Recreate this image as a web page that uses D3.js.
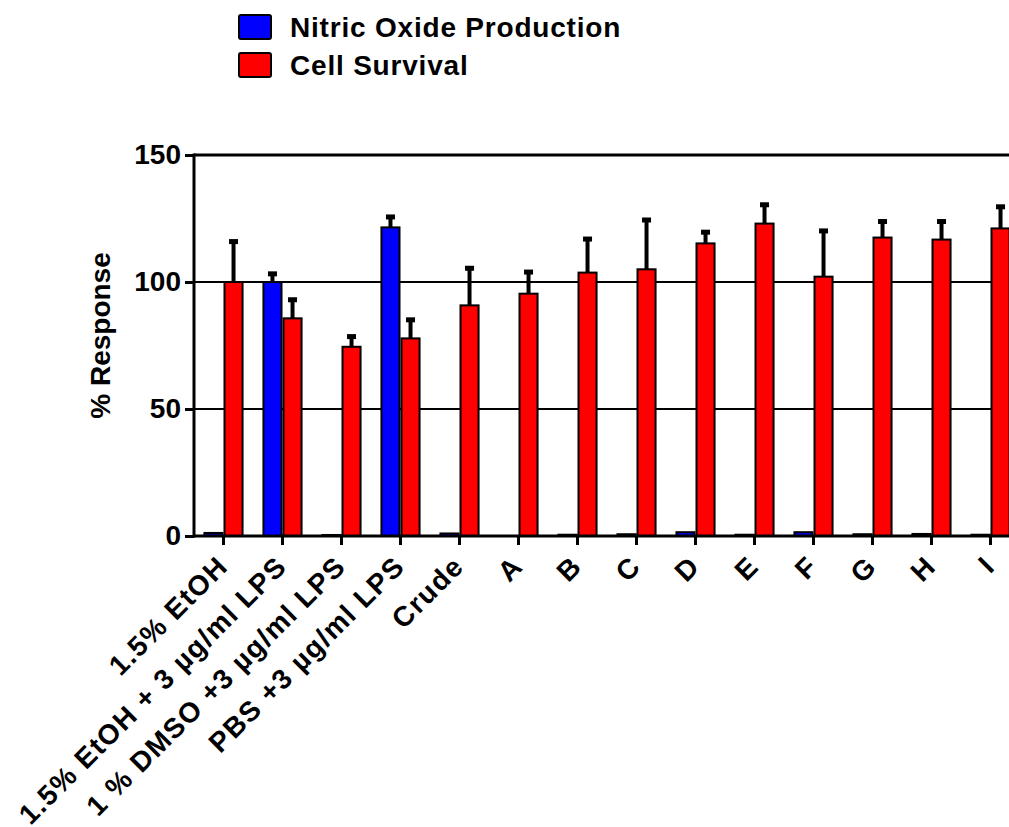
<!DOCTYPE html>
<html>
<head>
<meta charset="utf-8">
<script src="https://cdn.jsdelivr.net/npm/d3@7"></script>
<style>
  body { margin: 0; background: #fff; }
  svg { display: block; font-family: "Liberation Sans", Arial, sans-serif; font-weight: bold; }
</style>
</head>
<body>
<div id="chart"></div>
<script>
const categories = ["1.5% EtOH", "1.5% EtOH + 3 µg/ml LPS", "1 % DMSO +3 µg/ml LPS", "PBS +3 µg/ml LPS",
  "Crude", "A", "B", "C", "D", "E", "F", "G", "H", "I"];
const seriesNames = ["Nitric Oxide Production", "Cell Survival"];
const seriesColors = ["#0000ff", "#ff0000"];
const nitricOxide = [1.2, 100, 0.4, 121.5, 1.0, 0, 0.5, 0.7, 1.5, 0.5, 1.5, 0.7, 0.8, 0.5];
const nitricOxideErr = [0, 3.8, 0, 4.7, 0, 0, 0, 0, 0, 0, 0, 0, 0, 0];
const cellSurvival = [100, 85.7, 74.5, 77.8, 90.8, 95.4, 103.7, 105, 115.2, 123, 102.1, 117.5, 116.7, 121.1];
const cellSurvivalErr = [16.5, 7.9, 4.6, 7.9, 15.2, 9.1, 13.8, 20, 5, 8, 18.6, 6.9, 7.7, 9.1];
const yTicks = [0, 50, 100, 150];

const W = 1009, H = 827;
const svg = d3.select("#chart").append("svg")
    .attr("width", W)
    .attr("height", H);

const axisX = 194, axisBottom = 536;

const x0 = d3.scaleBand()
    .domain(categories)
    .range([axisX, 1020])
    .paddingInner(0.32)
    .paddingOuter(0.16);

const x1 = d3.scaleBand()
    .domain(seriesNames)
    .range([0, x0.bandwidth()]);

const y = d3.scaleLinear()
    .domain([0, 150])
    .range([axisBottom, 155]);

// gridlines
svg.append("g")
    .selectAll("line")
    .data(yTicks.filter(t => t > 0))
    .enter()
    .append("line")
    .attr("x1", axisX)
    .attr("x2", 1020)
    .attr("y1", d => y(d))
    .attr("y2", d => y(d))
    .attr("stroke", "#000")
    .attr("stroke-width", d => d === 150 ? 3 : 2);

const rows = categories.map((c, i) => ({
    cat: c,
    vals: [
        {s: seriesNames[0], v: nitricOxide[i], e: nitricOxideErr[i], color: seriesColors[0]},
        {s: seriesNames[1], v: cellSurvival[i], e: cellSurvivalErr[i], color: seriesColors[1]}
    ]
}));

const groups = svg.selectAll(".grp")
    .data(rows)
    .enter()
    .append("g")
    .attr("class", "grp")
    .attr("transform", d => `translate(${x0(d.cat)},0)`);

const bars = groups.selectAll(".bar")
    .data(d => d.vals.filter(v => v.v > 0))
    .enter()
    .append("g")
    .attr("class", "bar");

// error bars (upper only)
bars.filter(d => d.e > 0).append("line")
    .attr("x1", d => x1(d.s) + x1.bandwidth() / 2)
    .attr("x2", d => x1(d.s) + x1.bandwidth() / 2)
    .attr("y1", d => y(d.v))
    .attr("y2", d => y(d.v + d.e))
    .attr("stroke", "#000")
    .attr("stroke-width", 4);

bars.filter(d => d.e > 0).append("rect")
    .attr("x", d => x1(d.s) + x1.bandwidth() / 2 - 4.5)
    .attr("y", d => y(d.v + d.e) - 1)
    .attr("width", 9)
    .attr("height", 5)
    .attr("fill", "#000");

bars.append("rect")
    .attr("x", d => x1(d.s) + 1)
    .attr("y", d => y(d.v))
    .attr("width", x1.bandwidth() - 2)
    .attr("height", d => axisBottom - y(d.v))
    .attr("fill", d => d.color)
    .attr("stroke", "#000")
    .attr("stroke-width", 2);

// y axis
const yAxis = svg.append("g")
    .attr("transform", `translate(${axisX},0)`)
    .call(d3.axisLeft(y).tickValues(yTicks).tickSize(9).tickPadding(4));
yAxis.select(".domain").attr("stroke-width", 3).attr("d", `M0,${y(150) - 1.5}V${axisBottom + 1.5}`);
yAxis.selectAll(".tick line").attr("stroke-width", 3);
yAxis.selectAll(".tick text")
    .attr("font-size", 28)
    .attr("font-weight", "bold")
    .attr("font-family", "Liberation Sans, Arial, sans-serif")
    .attr("fill", "#000");

// x axis
const xAxis = svg.append("g")
    .attr("transform", `translate(0,${axisBottom})`)
    .call(d3.axisBottom(x0).tickSize(9).tickSizeOuter(0));
xAxis.select(".domain").attr("stroke-width", 3).attr("d", `M${axisX},0H1020`);
xAxis.selectAll(".tick line").attr("stroke-width", 3);
xAxis.selectAll(".tick text")
    .attr("font-size", 28)
    .attr("font-weight", "bold")
    .attr("font-family", "Liberation Sans, Arial, sans-serif")
    .attr("letter-spacing", 1.4)
    .attr("fill", "#000")
    .attr("text-anchor", "end")
    .attr("transform", "translate(6,32) rotate(-45)")
    .attr("x", 0)
    .attr("y", 0)
    .attr("dy", 0);

// y label
svg.append("text")
    .attr("transform", `translate(110,${(y(150) + axisBottom) / 2 - 10}) rotate(-90)`)
    .attr("text-anchor", "middle")
    .attr("font-size", 28)
    .text("% Response");

// legend
const legend = svg.append("g")
    .selectAll("g")
    .data(seriesNames)
    .enter()
    .append("g")
    .attr("transform", (d, i) => `translate(239,${15 + i * 38})`);

legend.append("rect")
    .attr("width", 32)
    .attr("height", 24)
    .attr("rx", 2)
    .attr("fill", (d, i) => seriesColors[i])
    .attr("stroke", "#000")
    .attr("stroke-width", 2);

legend.append("text")
    .attr("x", 51)
    .attr("y", 12)
    .attr("dy", "0.36em")
    .attr("font-size", 28)
    .attr("letter-spacing", 0.8)
    .text(d => d);
</script>
</body>
</html>
